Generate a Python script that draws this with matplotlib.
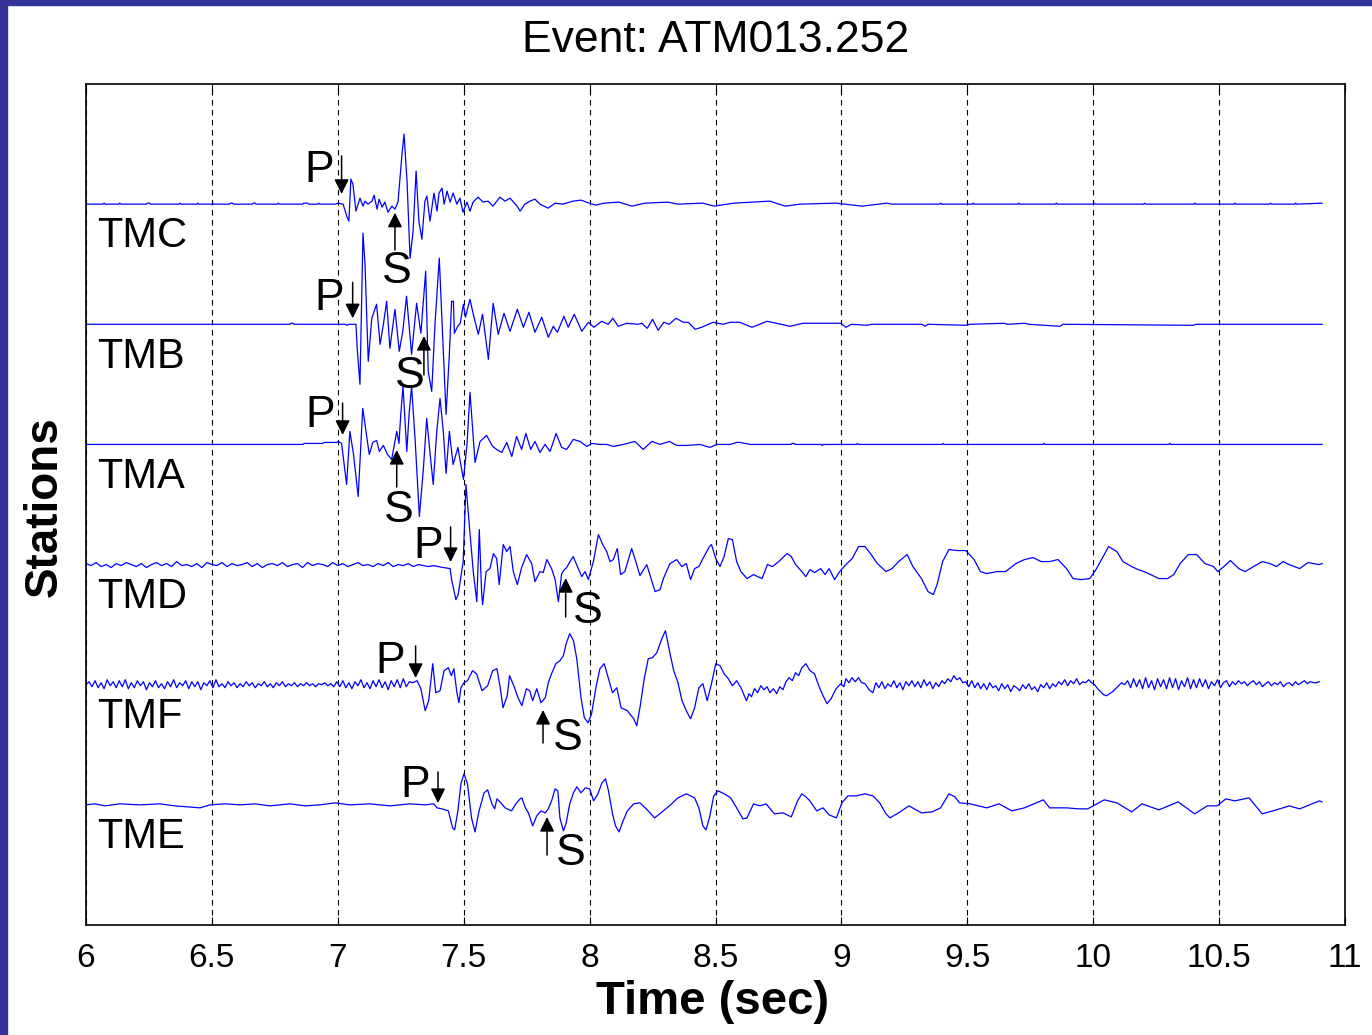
import matplotlib.pyplot as plt
import numpy as np
from matplotlib.patches import Rectangle
from matplotlib.ticker import FormatStrFormatter

plt.rcParams['font.family'] = ['Liberation Sans', 'DejaVu Sans']

# ---------------- data ----------------
# waveform picks: (time [s], amplitude [counts]); 120 counts = one trace spacing
stations = ['TMC', 'TMB', 'TMA', 'TMD', 'TMF', 'TME']
offsets = [6, 5, 4, 3, 2, 1]
gain = 1 / 120.0

tmc = [(6.000, 0), (6.068, 0), (6.072, 1), (6.076, 0), (6.130, 0), (6.134, 1), (6.138, 0),
       (6.240, 0), (6.244, 1), (6.252, 1), (6.256, 0), (6.370, 0), (6.374, 1), (6.378, 0),
       (6.440, 0), (6.444, 1), (6.448, 0), (6.500, 0), (6.504, 1), (6.508, 0), (6.570, 0),
       (6.574, 1), (6.582, 1), (6.586, 0), (6.660, 0), (6.664, 1), (6.672, 1), (6.676, 0),
       (6.760, 0), (6.764, 1), (6.768, 0), (6.860, 0), (6.864, 1), (6.880, 1), (6.884, 0),
       (6.920, 0), (6.924, 1), (6.928, 0), (6.990, 0),
       (7.001, 1), (7.021, 0), (7.037, -13), (7.044, -17), (7.052, 25), (7.060, 20),
       (7.072, -7), (7.088, 6), (7.100, -2), (7.108, 3), (7.120, 0), (7.136, 3), (7.144, 9),
       (7.156, -5), (7.164, 5), (7.176, -3), (7.187, 2), (7.199, -8), (7.215, -2), (7.227, -5),
       (7.239, 2), (7.255, 50), (7.263, 70), (7.275, 23), (7.287, -54), (7.299, -27),
       (7.311, 33), (7.322, -17), (7.334, -35), (7.346, 3), (7.354, 8), (7.366, -17),
       (7.382, 11), (7.394, -7), (7.402, 11), (7.414, 16), (7.422, 0), (7.434, 13),
       (7.446, 2), (7.458, 11), (7.473, 0), (7.485, 6), (7.497, -8), (7.513, 2), (7.525, -7),
       (7.537, 2), (7.557, 7), (7.577, 2), (7.597, 3), (7.616, -2), (7.644, 7), (7.664, 3),
       (7.684, 6), (7.712, -2), (7.724, -7), (7.743, 0), (7.763, 3), (7.783, 5), (7.803, 0),
       (7.835, -4), (7.863, 1), (7.894, 0), (7.934, 3), (7.966, 4), (7.998, 1), (8.025, -1),
       (8.057, 1), (8.117, 2), (8.168, -2), (8.220, 1), (8.311, 2), (8.351, 0), (8.450, 1),
       (8.494, -2), (8.573, 1), (8.716, 3), (8.776, -2), (8.836, 0), (8.979, 1), (9.082, -2),
       (9.181, 1), (9.200, 0), (9.390, 0), (9.394, 1), (9.398, 0), (9.520, 0), (9.524, 1),
       (9.528, 0), (9.700, 0), (9.704, 1), (9.708, 0), (9.850, 0), (9.854, 1), (9.858, 0),
       (10.000, 0), (10.004, 1), (10.008, 0), (10.200, 0), (10.204, 1), (10.208, 0),
       (10.400, 0), (10.404, 1), (10.408, 0), (10.560, 0), (10.564, 1), (10.568, 0),
       (10.700, 0), (10.704, 1), (10.708, 0), (10.800, 0), (10.804, 1), (10.808, 0),
       (10.909, 1)]

tmb = [(6.000, 0), (6.810, 0), (6.814, 1), (6.822, 1), (6.826, 0), (7.030, 0), (7.037, -1),
       (7.044, 0), (7.072, 0), (7.077, -24), (7.088, -60), (7.100, 91), (7.108, 60),
       (7.121, -37), (7.135, 6), (7.154, 20), (7.168, -20), (7.181, 0), (7.194, 23),
       (7.207, -24), (7.227, 15), (7.244, -27), (7.258, -7), (7.273, 28), (7.293, -30),
       (7.313, 21), (7.330, -9), (7.349, 53), (7.359, -47), (7.373, -67), (7.386, 0),
       (7.403, 66), (7.430, -90), (7.443, -30), (7.452, 23), (7.459, 23), (7.463, -9),
       (7.476, -2), (7.486, 1), (7.499, 20), (7.507, 7), (7.525, 25), (7.538, 10),
       (7.558, -10), (7.575, 10), (7.598, -35), (7.617, 21), (7.637, -10), (7.660, 11),
       (7.684, -7), (7.713, 15), (7.737, -3), (7.759, 12), (7.783, -8), (7.810, 7),
       (7.836, -13), (7.856, -2), (7.872, -8), (7.898, 8), (7.915, -3), (7.939, 10),
       (7.969, -7), (7.995, 2), (8.017, -3), (8.048, 3), (8.074, 0), (8.092, 6), (8.114, -2),
       (8.147, 1), (8.193, 0), (8.207, 1), (8.229, -4), (8.250, 5), (8.272, -6), (8.295, 2),
       (8.316, 0), (8.343, 6), (8.372, 2), (8.392, 2), (8.419, -5), (8.445, -3), (8.490, 2),
       (8.531, 0), (8.558, 2), (8.597, 2), (8.645, -3), (8.705, 3), (8.796, -2), (8.847, 1),
       (8.998, 1), (9.018, -3), (9.040, 0), (9.102, -1), (9.120, 0), (9.320, 0), (9.332, -2),
       (9.344, 0), (9.495, -1), (9.510, 0), (9.646, 1), (9.660, 0), (9.729, 1), (9.745, 0),
       (9.868, -2), (9.880, 0), (10.396, -1), (10.410, 0), (10.909, 0)]

tma = [(6.000, 0), (6.862, 0), (6.866, 1), (6.940, 1), (6.944, 2), (6.995, 2), (7.002, 3),
       (7.015, 1), (7.035, -40), (7.048, 13), (7.062, -9), (7.081, -52), (7.099, 36),
       (7.112, 13), (7.125, -10), (7.139, 2), (7.154, 4), (7.165, -7), (7.181, -1),
       (7.197, -10), (7.214, -15), (7.234, 13), (7.243, 1), (7.250, 30), (7.259, 58),
       (7.274, -7), (7.283, 30), (7.293, 58), (7.307, 5), (7.324, -72), (7.340, -24),
       (7.353, 26), (7.366, -8), (7.379, -40), (7.393, 13), (7.406, 46), (7.419, 13),
       (7.430, -29), (7.443, 13), (7.458, -20), (7.477, -3), (7.487, -18), (7.499, -35),
       (7.513, 0), (7.525, 52), (7.545, -18), (7.565, 3), (7.591, 9), (7.615, -2),
       (7.631, -5), (7.651, -8), (7.671, 2), (7.691, -12), (7.710, 8), (7.730, -5),
       (7.747, 11), (7.766, -5), (7.783, 3), (7.803, -8), (7.823, 0), (7.843, -7),
       (7.867, 11), (7.889, -3), (7.909, -5), (7.935, 5), (7.962, 3), (7.989, -2),
       (8.008, 1), (8.041, 0), (8.068, 0), (8.094, -2), (8.134, 0), (8.180, 3), (8.213, -5),
       (8.247, 3), (8.280, 0), (8.317, 3), (8.346, -1), (8.386, -1), (8.438, 0), (8.478, -3),
       (8.505, 0), (8.558, 0), (8.584, 2), (8.597, 2), (8.640, 0), (8.800, 0), (8.804, 1),
       (8.812, 1), (8.816, 0), (8.920, 0), (8.924, -1), (8.928, 0), (9.060, 0), (9.064, 1),
       (9.068, 0), (9.400, 0), (9.404, 1), (9.408, 0), (9.800, 0), (9.804, 1), (9.808, 0),
       (10.300, 0), (10.304, 1), (10.308, 0), (10.909, 0)]

# TMD pre-event noise, sampled every 0.02 s from 6.0 s
tmd_noise = [1, -1, 2, -2, 0, -3, 1, -1, 2, 0, -2, 1, -3, 0, 2, -1, 1, -2, 3, -1, 0, -2, 1, -3,
             2, 0, -1, 2, -2, 1, -1, 0, 2, -2, 1, -3, 0, 1, -1, 2, -2, 0, 1, -3, 2, -1, 1, 0,
             -2, 2, -1, 1, -2, 0, 2, -1, 0, -2, 1, -1, 2, -2, 0, -1, 1, -2, 0, -1, -2, -1, -2, -3]
tmd = [(7.446, -4), (7.452, -15), (7.469, -35), (7.478, -30), (7.492, -7), (7.498, 3),
       (7.509, 80), (7.522, 40), (7.538, -7), (7.552, -37), (7.562, 35), (7.571, -27),
       (7.575, -40), (7.589, -7), (7.604, -4), (7.618, 11), (7.631, 6), (7.641, -20),
       (7.657, 20), (7.671, 13), (7.684, 18), (7.697, -7), (7.713, -20), (7.730, -3),
       (7.750, 10), (7.770, 1), (7.783, -17), (7.803, -7), (7.816, -8), (7.830, 5),
       (7.849, -4), (7.863, -15), (7.876, -37), (7.889, -9), (7.900, -5), (7.909, -3),
       (7.922, 3), (7.935, 8), (7.955, -4), (7.969, -12), (7.982, -7), (7.995, -15),
       (8.015, 3), (8.035, 30), (8.052, 20), (8.068, 13), (8.081, 3), (8.094, 5), (8.110, 16),
       (8.123, -10), (8.140, -7), (8.167, 16), (8.180, 6), (8.200, -11), (8.227, 0),
       (8.260, -27), (8.280, -25), (8.293, -14), (8.319, 1), (8.346, 5), (8.366, -2),
       (8.384, 1), (8.401, -15), (8.417, -4), (8.434, -2), (8.450, 6), (8.476, 18),
       (8.484, 20), (8.501, 6), (8.518, -2), (8.534, 8), (8.551, 26), (8.567, 25), (8.584, 3),
       (8.601, -7), (8.625, -14), (8.651, -10), (8.667, -12), (8.685, -14), (8.706, 0),
       (8.726, -2), (8.751, 3), (8.784, 11), (8.801, 8), (8.818, 0), (8.843, -7), (8.859, -12),
       (8.875, -5), (8.893, -8), (8.918, -4), (8.935, -10), (8.951, -4), (8.973, -15),
       (8.993, -7), (9.018, 0), (9.043, 6), (9.068, 18), (9.094, 18), (9.118, 10), (9.143, 1),
       (9.177, -7), (9.201, -4), (9.227, 3), (9.261, 10), (9.284, -2), (9.318, -14),
       (9.344, -27), (9.365, -30), (9.380, -20), (9.402, 3), (9.427, 15), (9.460, 14),
       (9.494, 14), (9.527, 5), (9.552, -7), (9.577, -9), (9.618, -7), (9.652, -7), (9.693, 1),
       (9.727, 5), (9.761, 7), (9.793, 3), (9.827, 3), (9.860, 5), (9.894, -4), (9.920, -14),
       (9.952, -15), (9.986, -14), (10.011, -5), (10.044, 10), (10.061, 18), (10.094, 13),
       (10.118, 3), (10.153, -2), (10.178, -5), (10.202, -7), (10.228, -10), (10.261, -14),
       (10.295, -14), (10.320, -10), (10.345, 1), (10.378, 10), (10.411, 10), (10.444, 1),
       (10.478, -2), (10.495, -7), (10.519, -2), (10.545, 4), (10.578, -4), (10.603, -7),
       (10.637, -2), (10.671, 3), (10.702, 1), (10.728, -2), (10.754, 3), (10.778, 0),
       (10.820, -4), (10.853, 2), (10.896, 0), (10.909, 1)]

# TMF noise before the P arrival, every 0.012 s from 6.0 s
tmf_noise_pre = [0, 3, -2, 4, -3, 2, -4, 5, -1, 3, -3, 4,
                 -2, 5, -4, 2, -3, 4, -1, 3, -5, 2, -2, 4,
                 -3, 1, -4, 3, -2, 5, -3, 2, -1, 4, -4, 3,
                 -2, 3, -5, 2, -1, 4, -3, 5, -2, 1, -3, 3,
                 -1, 2, -3, 1, -2, 3, -1, 2, -3, 1, -1, 3,
                 -2, 1, -3, 2, -1, 3, -2, 1, -1, 2, -2, 1,
                 -1, 2, -1, 1, -2, 1, 0, 2, -1, 1, -2, 3,
                 -2, 4, -3, 2, -4, 3, -1, 5, -3, 2, -4, 4,
                 -2, 5, -3, 3, -5, 4, -2, 5, -3, 6, -2, 3]
tmf = [(7.297, 2), (7.315, 4), (7.330, -4), (7.347, -26), (7.361, -16), (7.377, 21),
       (7.389, -8), (7.406, -6), (7.422, 14), (7.439, 17), (7.451, 9), (7.461, 16),
       (7.473, -8), (7.481, -18), (7.489, -3), (7.501, 2), (7.515, 4), (7.535, 14),
       (7.551, 11), (7.573, -6), (7.595, -1), (7.615, 14), (7.632, 16), (7.645, -3),
       (7.656, -23), (7.673, -11), (7.682, 9), (7.699, -1), (7.716, -13), (7.731, -21),
       (7.749, -4), (7.762, -6), (7.774, -16), (7.790, -4), (7.807, -18), (7.824, -13),
       (7.836, 2), (7.849, 11), (7.866, 21), (7.882, 24), (7.896, 29), (7.907, 41),
       (7.921, 51), (7.936, 44), (7.949, 26), (7.966, -13), (7.979, -33), (7.994, -38),
       (8.008, -29), (8.025, -3), (8.041, 16), (8.058, 21), (8.075, 6), (8.091, -8),
       (8.108, -3), (8.125, -23), (8.150, -26), (8.175, -34), (8.187, -41), (8.200, -23),
       (8.217, 6), (8.233, 26), (8.250, 27), (8.267, 32), (8.284, 44), (8.301, 54),
       (8.317, 34), (8.334, 14), (8.351, 2), (8.367, -16), (8.384, -26), (8.401, -34),
       (8.417, -23), (8.434, -3), (8.450, 1), (8.467, -16), (8.484, 1), (8.501, 21),
       (8.518, 19), (8.534, 11), (8.551, 6), (8.567, -1), (8.584, 4), (8.601, -3),
       (8.623, -16), (8.633, -9), (8.643, -12), (8.655, -4), (8.667, -8), (8.680, -1),
       (8.693, -5), (8.705, -2), (8.716, -8), (8.730, -4), (8.743, -9), (8.755, -2),
       (8.768, -5), (8.780, 3), (8.792, 7), (8.805, 4), (8.818, 12), (8.830, 9),
       (8.843, 17), (8.859, 21), (8.875, 14), (8.893, 11), (8.910, -1), (8.927, -11),
       (8.943, -19), (8.959, -14), (8.979, -4), (8.998, 1), (9.010, -2), (9.018, 6),
       (9.030, 2), (9.042, 7), (9.055, 3), (9.068, 7), (9.080, 2), (9.094, 1), (9.110, -5),
       (9.125, -8)]
# TMF coda noise, every 0.0119 s from 9.137 s
tmf_noise_post = [2, -3, 3, -4, 1, -2, 4, -3, 2, -5, 3, -1,
                  4, -2, 3, -3, 5, -1, 3, -4, 2, -2, 4, 1,
                  6, 3, 9, 5, 7, 2, 3, -2, 4, -3, 2, -4,
                  1, -5, 2, -3, -1, -6, 1, -4, 0, -7, -1, -3,
                  -6, 0, -4, 1, -5, -2, -7, 0, -3, 2, -4, 1,
                  -2, 3, 0, 5, -1, 4, 1, 6, 0, 3, 2, 5,
                  2, 0, -4, -7, -10, -11, -9, -7, -4, -1, 2, 0,
                  4, -3, 6, -2, 5, -4, 7, -3, 4, -5, 6, -2,
                  5, -4, 7, -3, 6, -5, 4, -2, 7, -4, 5, -3,
                  6, -2, 5, -4, 3, -1, 5, -3, 2, 4, -2, 3,
                  0, 4, 1, 3, -1, 2, 4, 0, 3, -2, 1, 3,
                  -1, 2, 0, 3, -2, 1, 2, -1, 3, 0, 2, 4,
                  1, 3, 2, 2, 3]

tme = [(6.000, 0), (6.036, 1), (6.075, -1), (6.135, 1), (6.214, 0), (6.294, 1), (6.353, -1),
       (6.453, -3), (6.492, 0), (6.552, 1), (6.612, 0), (6.671, 1), (6.731, -1), (6.810, 1),
       (6.870, -1), (6.929, 0), (6.989, 2), (7.048, 0), (7.128, 1), (7.207, -1), (7.287, 1),
       (7.346, 0), (7.381, 1),
       (7.394, -3), (7.414, -4), (7.439, -6), (7.456, -23), (7.464, -25), (7.477, -6),
       (7.489, 21), (7.501, 31), (7.515, 21), (7.531, -13), (7.545, -27), (7.561, -6),
       (7.581, 12), (7.595, 15), (7.612, 1), (7.623, -4), (7.632, 6), (7.648, 2), (7.664, -3),
       (7.690, -6), (7.707, 1), (7.724, 6), (7.731, 7), (7.745, -3), (7.757, -8), (7.774, -21),
       (7.790, -11), (7.807, -6), (7.824, -8), (7.836, -4), (7.849, 4), (7.863, 16),
       (7.874, 14), (7.882, -13), (7.896, -26), (7.907, -18), (7.921, 1), (7.936, 12),
       (7.949, 18), (7.966, 12), (7.983, 17), (8.000, 16), (8.016, 4), (8.033, 11),
       (8.049, 22), (8.063, 26), (8.075, 14), (8.091, -9), (8.103, -21), (8.117, -27),
       (8.133, -16), (8.150, -6), (8.175, 1), (8.200, 2), (8.225, -4), (8.258, -13),
       (8.283, -8), (8.317, -1), (8.351, 7), (8.384, 11), (8.417, 7), (8.434, -3),
       (8.450, -21), (8.462, -25), (8.476, -13), (8.493, 9), (8.510, 14), (8.535, 11),
       (8.560, 7), (8.584, -3), (8.609, -14), (8.625, -13), (8.651, 1), (8.676, -1),
       (8.701, 1), (8.734, -9), (8.768, -8), (8.801, -12), (8.826, 4), (8.843, 11),
       (8.859, 8), (8.875, 4), (8.902, -6), (8.927, -3), (8.951, -10), (8.980, -13),
       (9.002, 2), (9.026, 9), (9.060, 9), (9.093, 11), (9.125, 9), (9.152, 2), (9.177, -9),
       (9.193, -13), (9.227, -8), (9.268, -1), (9.318, -8), (9.360, -7), (9.394, -3),
       (9.427, 11), (9.451, 8), (9.469, 2), (9.511, 1), (9.577, -3), (9.626, 1), (9.677, -6),
       (9.727, -3), (9.802, 5), (9.827, -3), (9.894, -3), (9.943, -4), (9.978, -4),
       (10.044, 5), (10.094, 2), (10.153, -7), (10.194, 1), (10.261, -5), (10.337, 3),
       (10.403, -9), (10.453, -1), (10.492, -1), (10.527, 6), (10.562, 4), (10.619, 7),
       (10.671, -9), (10.728, -5), (10.778, -1), (10.820, -4), (10.870, 1), (10.899, 4),
       (10.909, 3)]

# P and S arrival picks [s]
p_picks = [7.015, 7.059, 7.019, 7.448, 7.309, 7.398]
s_picks = [7.227, 7.342, 7.234, 7.905, 7.815, 7.831]


def sampled(t0, dt, vals):
    t = t0 + dt * np.arange(len(vals))
    return list(zip(t, vals))


traces = {
    'TMC': tmc,
    'TMB': tmb,
    'TMA': tma,
    'TMD': sampled(6.0, 0.02, tmd_noise) + tmd,
    'TMF': sampled(6.0, 0.012, tmf_noise_pre) + tmf + sampled(9.137, 0.0119, tmf_noise_post),
    'TME': tme,
}

# label / arrow layout in data units (y)
p_layout = [(6.925, 6.184, 6.401, 6.085), (6.965, 5.119, 5.349, 5.050),
            (6.929, 4.145, 4.345, 4.079), (7.358, 3.055, 3.313, 3.021),
            (7.207, 2.098, 2.322, 2.056), (7.307, 1.065, 1.274, 1.015)]
s_layout = [(7.235, 5.344, 5.618, 5.929), (7.287, 4.470, 4.578, 4.903),
            (7.243, 3.354, 3.646, 3.954), (7.994, 2.514, 2.564, 2.888),
            (7.914, 1.457, 1.515, 1.790), (7.926, 0.499, 0.583, 0.899)]

# ---------------- figure ----------------
fig = plt.figure(figsize=(13.72, 10.35), dpi=100)
fig.patches.append(Rectangle((0, 0), 7 / 1372, 1, transform=fig.transFigure,
                             color='#333399', zorder=0))
fig.patches.append(Rectangle((0, 1 - 5 / 1035), 1, 5 / 1035, transform=fig.transFigure,
                             color='#333399', zorder=0))

ax = fig.add_axes([86 / 1372, 110 / 1035, 1259 / 1372, 841 / 1035])

for name, off in zip(stations, offsets):
    tr = np.array(traces[name], dtype=float)
    ax.plot(tr[:, 0], off + tr[:, 1] * gain, color='#0000ff', lw=0.9)
    ax.text(6.045, off - 0.36, name, fontsize=30, ha='left', va='baseline')

arrow = dict(arrowstyle='-|>', mutation_scale=22, lw=1.1, color='k',
             shrinkA=0, shrinkB=0)
for tp, ts, pl, sl in zip(p_picks, s_picks, p_layout, s_layout):
    ax.text(pl[0], pl[1], 'P', fontsize=32, ha='center', va='baseline')
    ax.annotate('', xy=(tp, pl[3]), xytext=(tp, pl[2]), arrowprops=arrow)
    ax.text(sl[0], sl[1], 'S', fontsize=32, ha='center', va='baseline')
    ax.annotate('', xy=(ts, sl[3]), xytext=(ts, sl[2]), arrowprops=arrow)

ax.set_xlim(6, 11)
ax.set_ylim(0, 7)
ax.set_xticks(np.arange(6, 11.01, 0.5))
ax.xaxis.set_major_formatter(FormatStrFormatter('%g'))
ax.set_yticks([])
ax.tick_params(axis='x', direction='in', length=6, top=True, labelsize=24, pad=13)
ax.grid(axis='x', color='k', linestyle=(0, (5, 4)), lw=0.8)
for sp in ax.spines.values():
    sp.set_linewidth(1.2)

ax.set_title('Event: ATM013.252', fontsize=32, pad=23)
ax.set_xlabel('Time (sec)', fontsize=34, fontweight='bold', va='center')
ax.xaxis.set_label_coords(0.498, -0.091)
ax.set_ylabel('Stations', fontsize=33, fontweight='bold', va='center')
ax.yaxis.set_label_coords(-0.0326, 0.497)

fig.savefig('out.png', dpi=100)
